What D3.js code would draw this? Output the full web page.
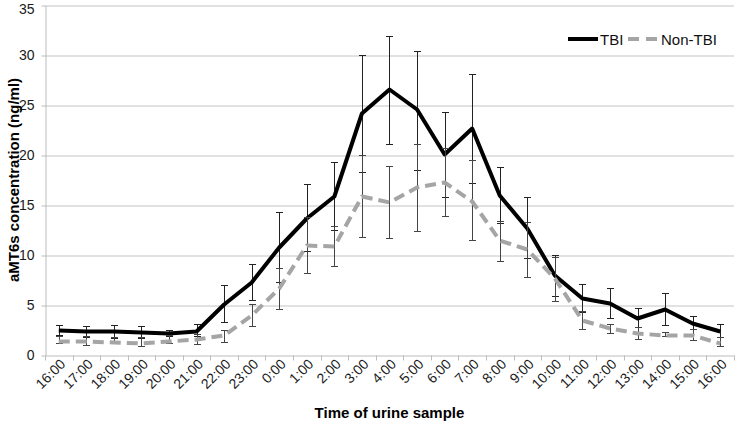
<!DOCTYPE html>
<html>
<head>
<meta charset="utf-8">
<script src="https://cdn.jsdelivr.net/npm/d3@7"></script>
<style>
  body { margin: 0; background: #fff; }
  svg { font-family: "Liberation Sans", Arial, sans-serif; }
  .grid line { stroke: #c4c4c4; }
  .grid .domain { display: none; }
  .axis text { fill: #1a1a1a; font-size: 14px; }
  .axis line, .axis path { stroke: #bcbcbc; }
  .title { font-weight: bold; font-size: 15px; fill: #000; }
  .legend text { font-size: 15px; fill: #111; }
</style>
</head>
<body>
<svg></svg>
<script>
const times = ["16:00","17:00","18:00","19:00","20:00","21:00","22:00","23:00","0:00","1:00","2:00","3:00","4:00",
               "5:00","6:00","7:00","8:00","9:00","10:00","11:00","12:00","13:00","14:00","15:00","16:00 "];

// TBI group: mean and error bar ends
const tbiMean = [2.5,2.4,2.4,2.3,2.2,2.4,5.1,7.3,10.8,13.7,15.9,24.2,26.6,24.6,20.1,22.7,16.0,12.7,8.0,5.7,5.2,3.7,4.6,3.2,2.4];
const tbiHigh = [3.0,2.9,3.0,2.9,2.5,3.1,7.0,9.1,14.3,17.1,19.3,30.0,31.9,30.4,24.3,28.1,18.8,15.8,10.0,7.1,6.7,4.7,6.2,3.9,3.1];
const tbiLow  = [2.0,1.8,1.7,1.7,1.9,1.9,3.3,5.5,7.3,10.4,12.5,18.3,21.1,18.5,15.8,17.2,13.2,9.7,5.9,4.3,3.7,2.8,3.0,2.6,1.8];

// Non-TBI group
const nonMean = [1.4,1.4,1.3,1.2,1.4,1.6,2.0,4.0,6.7,11.0,10.9,15.9,15.3,16.8,17.3,15.4,11.5,10.6,7.7,3.5,2.7,2.2,2.0,2.0,1.2];
const nonHigh = [1.9,1.9,1.8,1.8,2.0,2.1,2.5,5.1,8.7,13.8,12.9,20.0,18.9,21.1,20.7,19.5,13.4,13.3,9.8,4.4,3.1,2.8,2.3,2.6,1.8];
const nonLow  = [1.2,1.0,1.2,0.9,1.2,1.1,1.3,2.9,4.6,8.2,8.9,11.8,11.7,12.4,13.9,11.5,9.4,7.8,5.4,2.6,2.2,1.6,1.9,1.5,0.9];

const yTicks = [0,5,10,15,20,25,30,35];

const svgWidth = 736, svgHeight = 422;
const plotLeft = 45, plotRight = 734, plotTop = 5, plotBottom = 355;

const svg = d3.select("svg")
    .attr("width", svgWidth)
    .attr("height", svgHeight);

const x = d3.scaleBand().domain(times).range([plotLeft, plotRight]);
const y = d3.scaleLinear().domain([0, 35]).range([plotBottom + 0.5, plotTop + 0.5]);

// horizontal gridlines
svg.append("g")
    .attr("class", "grid")
    .attr("transform", `translate(${plotLeft}, 0)`)
    .call(d3.axisLeft(y).tickValues(yTicks.slice(1)).tickSize(-(plotRight - plotLeft)).tickFormat(""));

// y axis
const yAxis = svg.append("g")
    .attr("class", "axis")
    .attr("transform", `translate(${plotLeft + 0.5}, 0)`)
    .call(d3.axisLeft(y).tickValues(yTicks).tickSize(4).tickPadding(7).tickSizeOuter(0));

// top label would be clipped by the window edge, nudge it down a little
yAxis.selectAll(".tick text").filter(d => d === 35).attr("dy", "0.55em");

// x axis, ticks sit on the band edges
const xAxis = svg.append("g")
    .attr("class", "axis")
    .attr("transform", `translate(0, ${plotBottom + 0.5})`)
    .call(d3.axisBottom(x).tickSize(0).tickSizeOuter(0));

xAxis.selectAll("text")
    .attr("text-anchor", "end")
    .attr("transform", "translate(4, 6) rotate(-45)")
    .attr("dy", "0.35em")
    .attr("x", 0).attr("y", 0);

xAxis.selectAll(".edge")
    .data(times.map(t => x(t)).concat([plotRight]))
    .join("line")
    .attr("x1", d => Math.round(d) + 0.5).attr("x2", d => Math.round(d) + 0.5)
    .attr("y1", 0).attr("y2", 5)
    .attr("stroke", "#bcbcbc");

const cx = t => x(t) + x.bandwidth() / 2;

function drawSeries(mean, low, high, opts) {
    const g = svg.append("g");

    // error bars
    const bars = g.selectAll(".eb")
        .data(times.map((t, i) => ({ t, lo: low[i], hi: high[i] })))
        .join("g")
        .attr("stroke", opts.barColor)
        .attr("stroke-width", 1);
    bars.append("line")
        .attr("x1", d => Math.round(cx(d.t)) + 0.5).attr("x2", d => Math.round(cx(d.t)) + 0.5)
        .attr("y1", d => y(d.lo)).attr("y2", d => y(d.hi));
    bars.append("line")
        .attr("x1", d => Math.round(cx(d.t)) - 3).attr("x2", d => Math.round(cx(d.t)) + 4)
        .attr("y1", d => y(d.hi)).attr("y2", d => y(d.hi));
    bars.append("line")
        .attr("x1", d => Math.round(cx(d.t)) - 3).attr("x2", d => Math.round(cx(d.t)) + 4)
        .attr("y1", d => y(d.lo)).attr("y2", d => y(d.lo));

    const line = d3.line()
        .x((d, i) => cx(times[i]))
        .y(d => y(d));

    g.append("path")
        .datum(mean)
        .attr("fill", "none")
        .attr("stroke", opts.color)
        .attr("stroke-width", 4)
        .attr("stroke-linejoin", "round")
        .attr("stroke-dasharray", opts.dash)
        .attr("d", line);
}

drawSeries(tbiMean, tbiLow, tbiHigh, { color: "#000", barColor: "#222", dash: null });
drawSeries(nonMean, nonLow, nonHigh, { color: "#a5a5a5", barColor: "#444", dash: "11,6" });

// axis titles
svg.append("text")
    .attr("class", "title")
    .attr("x", (plotLeft + plotRight) / 2)
    .attr("y", 418)
    .attr("text-anchor", "middle")
    .text("Time of urine sample");

svg.append("text")
    .attr("class", "title")
    .attr("transform", `translate(14, ${(plotTop + plotBottom) / 2}) rotate(-90)`)
    .attr("text-anchor", "middle")
    .attr("dy", "0.35em")
    .text("aMT6s concentration (ng/ml)");

// legend
const legend = svg.append("g").attr("class", "legend");
legend.append("line")
    .attr("x1", 568).attr("x2", 598).attr("y1", 39).attr("y2", 39)
    .attr("stroke", "#000").attr("stroke-width", 4);
legend.append("text").attr("x", 600).attr("y", 44.5).text("TBI");
legend.append("line")
    .attr("x1", 628).attr("x2", 657).attr("y1", 39).attr("y2", 39)
    .attr("stroke", "#a5a5a5").attr("stroke-width", 4)
    .attr("stroke-dasharray", "11,7");
legend.append("text").attr("x", 661).attr("y", 44.5).text("Non-TBI");
</script>
</body>
</html>
